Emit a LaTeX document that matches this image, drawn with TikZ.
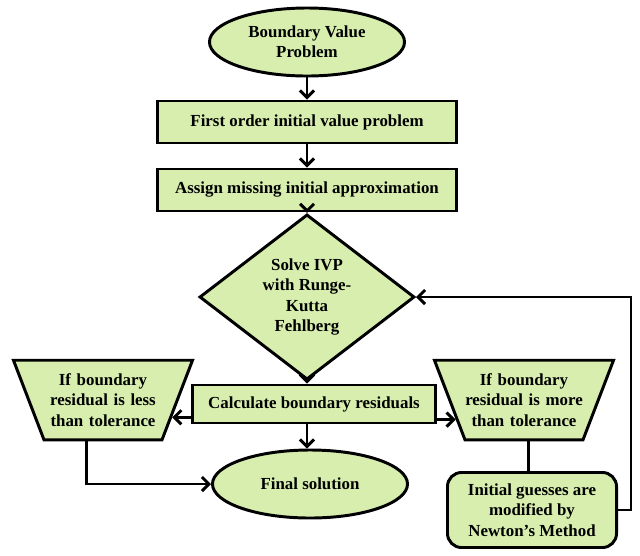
\documentclass[tikz,border=0pt]{standalone}
\usepackage{fontspec}
\setmainfont{Liberation Serif}
\usetikzlibrary{arrows.meta,shapes.geometric}

\definecolor{boxgreen}{RGB}{215,238,175}

\begin{document}
\begin{tikzpicture}
  [x=0.025cm,y=-0.025cm,
   every node/.style={draw,line width=2.1pt,fill=boxgreen,align=center,
     font=\fontsize{12}{14.5}\selectfont\bfseries,inner sep=0pt},
   oval/.style={ellipse,minimum width=4.875cm,minimum height=1.7cm},
   stepbox/.style={rectangle,minimum width=7.45cm,minimum height=1.05cm},
   decide/.style={diamond,minimum width=5.375cm,minimum height=3cm},
   check/.style={trapezium,shape border rotate=180,trapezium angle=69,
     text width=2.95cm,inner xsep=0pt,inner ysep=9.5pt},
   flow/.style={line width=2.1pt,arrows={-{Straight Barb[length=5pt,width=10pt]}}},
   link/.style={line width=2.1pt}]
  \useasboundingbox (0,0) rectangle (640,555);

  \node[oval] (bvp) at (307,42) {Boundary Value\\Problem};
  \node[stepbox] (first) at (307,122) {First order initial value problem};
  \node[stepbox] (assign) at (307,190) {Assign missing initial approximation};
  \node[decide] (solve) at (307,297) {Solve IVP\\with Runge-\\Kutta\\Fehlberg};
  \node[stepbox,minimum width=6.05cm,minimum height=0.95cm] (calc) at (314,404)
    {Calculate boundary residuals};
  \node[oval] (final) at (310,484) {Final solution};
  \node[check] (less) at (103,400) {If boundary\\residual is less\\than tolerance};
  \node[check] (more) at (524,400) {If boundary\\residual is more\\than tolerance};
  \node[rectangle,rounded corners=10pt,minimum width=4.225cm,minimum height=1.875cm]
    (newton) at (532,510) {Initial guesses are\\modified by\\Newton’s Method};

  \draw[flow] (bvp) to (first);
  \draw[flow] (first) to (assign);
  \draw[flow] (assign) to (solve);
  \draw[flow] (solve.south) to (solve.south |- calc.north);
  \draw[flow] (solve.south |- calc.south) to (solve.south |- final.north);
  \draw[flow] (calc.west |- less.-14.8) to (less.-14.8);
  \draw[flow] (calc.east |- more.196.5) to (more.196.5);
  \draw[flow] ([xshift=-0.42cm]less.south) |- (final.west);
  \draw[link] ([xshift=0.12cm]more.south) to ([xshift=0.12cm]more.south |- newton.north);
  \draw[flow] (newton.east) -- ++(13,0) |- (solve.east);
\end{tikzpicture}
\end{document}
